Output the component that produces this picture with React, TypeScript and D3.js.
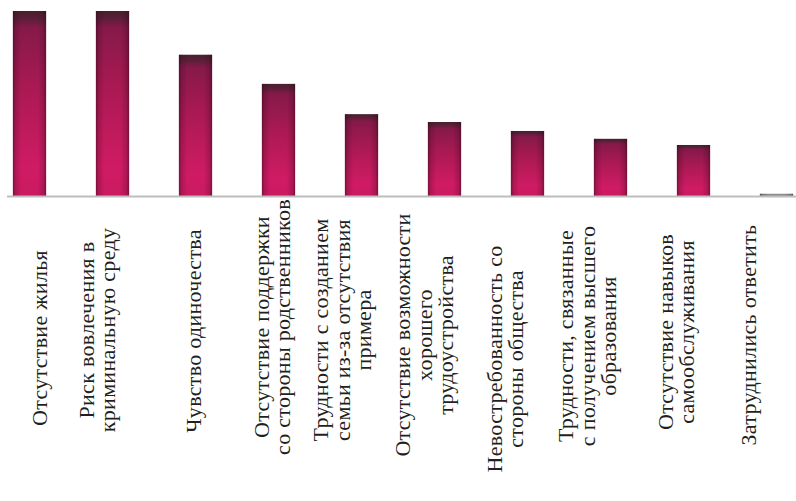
import React, { useEffect } from 'react';
import * as d3 from 'd3';

// подписи категорий (по строкам)
const categories: string[][] = [
  ['Отсутствие жилья'],
  ['Риск вовлечения в', 'криминальную среду'],
  ['Чувство одиночества'],
  ['Отсутствие поддержки', 'со стороны родственников'],
  ['Трудности с созданием', 'семьи из-за отсутствия', 'примера'],
  ['Отсутствие возможности', 'хорошего', 'трудоустройства'],
  ['Невостребованность со', 'стороны общества'],
  ['Трудности, связанные', 'с получением высшего', 'образования'],
  ['Отсутствие навыков', 'самообслуживания'],
  ['Затруднились ответить']
];
const values: number[] = [33, 33, 25.2, 20.0, 14.6, 13.2, 11.6, 10.2, 9.1, 0.4];

// сдвиг подписей относительно центра столбца (x) и центр строки по вертикали (y)
const labelShiftX = [10, -15, -2, -6, -19, -20, -22, -23, -17, -28];
const labelCenterY = [338, 330, 331, 327, 330, 335, 359, 336, 332, 335];

const WIDTH = 796;
const HEIGHT = 501;
const BASE_Y = 196;
const LINE_H = 21.5;

const keys = categories.map((_, i) => String(i));
const x = d3.scaleBand().domain(keys).range([-12, 818]).paddingInner(0.6).paddingOuter(0.3);
const y = d3.scaleLinear().domain([0, 33]).range([BASE_Y, 11]);

const vStops: [number, string][] = [
  [0, '#4a1e2e'],
  [0.04, '#5a1f38'],
  [0.09, '#86194a'],
  [0.4, '#a91953'],
  [0.85, '#d01b64'],
  [1, '#c91a60']
];
const hStops: [number, number][] = [
  [0, 0.5],
  [0.08, 0.2],
  [0.25, 0],
  [0.75, 0],
  [0.92, 0.2],
  [1, 0.5]
];

export default function App(): JSX.Element {
  useEffect(() => {
    document.body.style.margin = '0';
  }, []);

  return (
    <svg width={WIDTH} height={HEIGHT} style={{ display: 'block', background: '#ffffff' }}>
      <defs>
        <linearGradient id="barV" x1={0} y1={0} x2={0} y2={1}>
          {vStops.map(([o, c]) => (
            <stop key={o} offset={o} stopColor={c} />
          ))}
        </linearGradient>
        <linearGradient id="barH">
          {hStops.map(([o, a]) => (
            <stop key={o} offset={o} stopColor="#2a0614" stopOpacity={a} />
          ))}
        </linearGradient>
      </defs>

      {/* столбцы */}
      {values.map((v, i) => {
        const h = BASE_Y - y(v);
        const bx = x(keys[i]) as number;
        return (
          <g key={i}>
            <rect x={bx} y={y(v)} width={x.bandwidth()} height={h} fill={h < 4 ? '#8c8c8c' : 'url(#barV)'} />
            <rect x={bx} y={y(v)} width={x.bandwidth()} height={h} fill="url(#barH)" />
          </g>
        );
      })}

      {/* ось X */}
      <line x1={7} x2={WIDTH} y1={BASE_Y + 0.5} y2={BASE_Y + 0.5} stroke="#bdbdbd" strokeWidth={2} />

      {/* подписи, повернутые на -90° */}
      {categories.map((lines, i) => {
        const cx = (x(keys[i]) as number) + x.bandwidth() / 2 + labelShiftX[i];
        return (
          <g key={i} transform={`translate(${cx}, ${labelCenterY[i]}) rotate(-90)`}>
            {lines.map((line, j) => (
              <text
                key={j}
                x={0}
                y={(j - (lines.length - 1) / 2) * LINE_H + 7}
                textAnchor="middle"
                fill="#231f20"
                fontFamily="Tinos, Liberation Serif, serif"
                fontSize={22}
                letterSpacing={0.3}
              >
                {line}
              </text>
            ))}
          </g>
        );
      })}
    </svg>
  );
}
